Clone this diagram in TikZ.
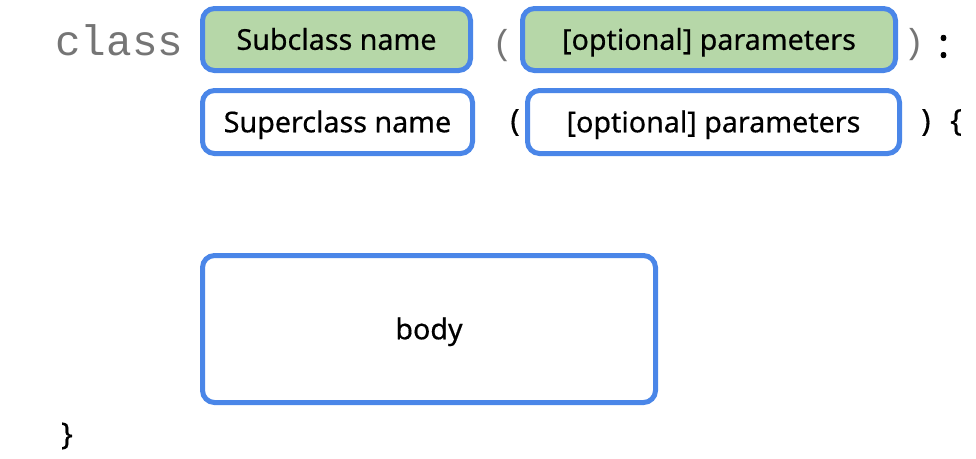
\documentclass[tikz,border=0pt]{standalone}
\usepackage{fontspec}
\setmainfont{Noto Sans}
\newfontfamily\labelfont[FakeBold=0.5]{Noto Sans}
\newfontfamily\colonfont[FakeBold=2]{Noto Sans}
\newfontfamily\codefont{Liberation Mono}
\definecolor{bblue}{HTML}{4A86E8}
\definecolor{bgreen}{HTML}{B6D7A8}
\definecolor{cgray}{HTML}{757575}
\tikzset{
  box/.style={draw=bblue, line width=3.75pt, rounded corners=9pt, inner sep=0pt,
    text height=15.4pt, text depth=0pt, font=\labelfont\fontsize{21.5}{25}\selectfont},
  greenbox/.style={box, fill=bgreen},
  whitebox/.style={box, fill=white},
  code/.style={inner sep=0pt, text=cgray, font=\codefont\fontsize{32}{36}\selectfont},
  graypar/.style={inner sep=0pt, text=cgray, font=\codefont\fontsize{26}{30}\selectfont},
  blackpar/.style={inner sep=0pt, text=black, font=\labelfont\fontsize{23}{27}\selectfont},
}
\begin{document}
\begin{tikzpicture}[x=0.75pt,y=-0.75pt]
\useasboundingbox (0,0) rectangle (976,458);
% row 1
\node[code, anchor=base west] (kw) at (55,55) {class};
\node[greenbox, minimum width=201pt, minimum height=46.5pt] (sub) at (336.5,39.5) {Subclass name};
\node[graypar] (lp1) at (502.5,45.5) {(};
\node[greenbox, minimum width=279.75pt, minimum height=46.5pt] (p1) at (709,39.5) {[optional] parameters};
\node[graypar] (rp1) at (914,45) {)};
\node[inner sep=0pt, font=\colonfont\bfseries\fontsize{30}{34}\selectfont] (colon) at (943.5,46.5) {:};
% row 2
\node[whitebox, minimum width=202.5pt, minimum height=47.25pt] (sup) at (337.5,122) {Superclass name};
\node[blackpar] (lp2) at (515,122.5) {(};
\node[whitebox, minimum width=279pt, minimum height=47.25pt] (p2) at (713.5,122) {[optional] parameters};
\node[blackpar] (rp2) at (926,122.5) {)};
\node[blackpar] (lb) at (956,122.5) {\{};
% body
\node[whitebox, minimum width=339.75pt, minimum height=110.25pt] (body) at (429,329) {body};
\node[blackpar] (rb) at (67,436) {\}};
\end{tikzpicture}
\end{document}
